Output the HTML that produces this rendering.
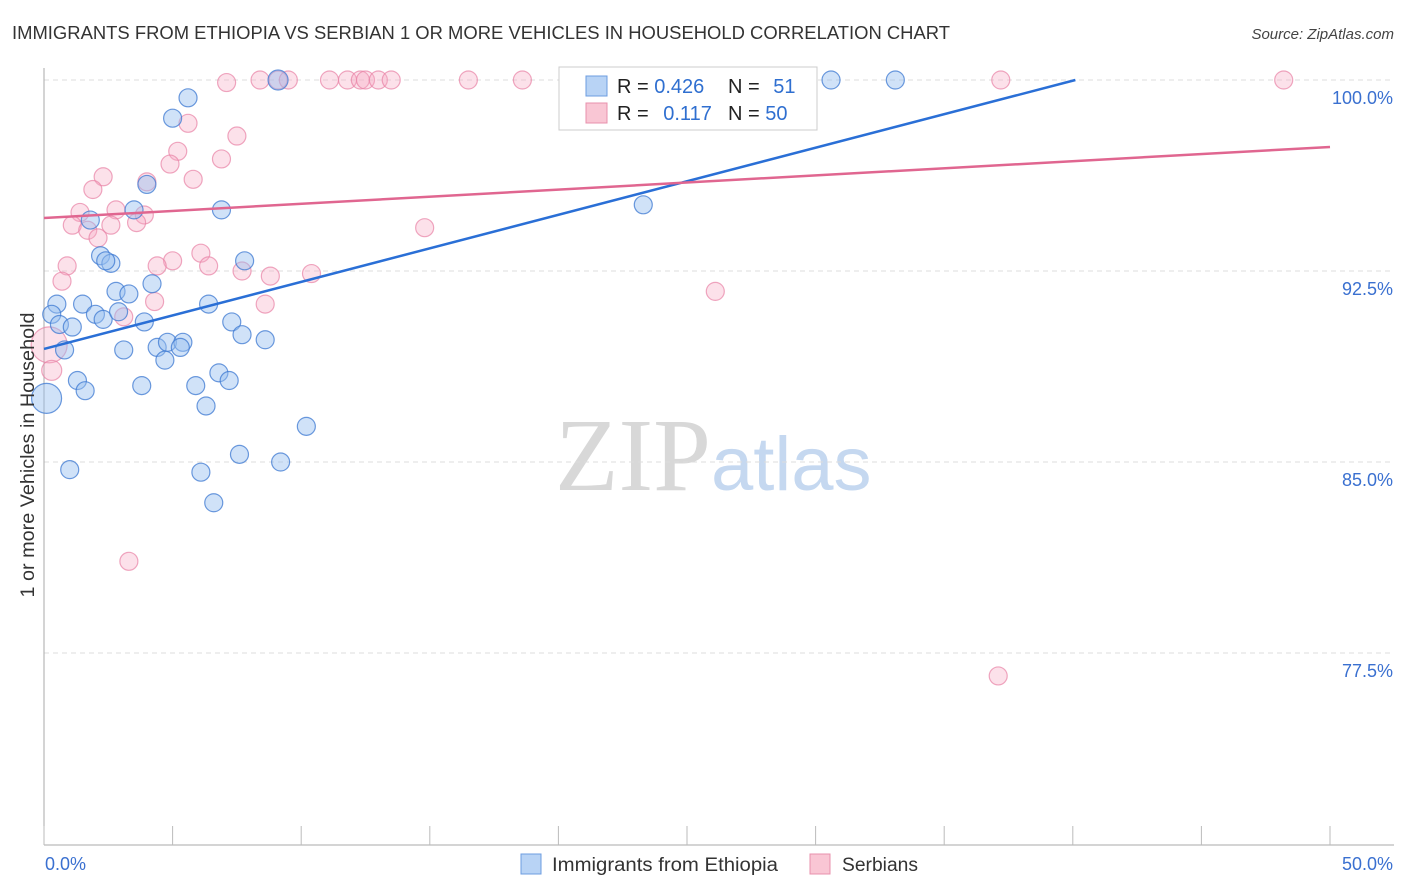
<!DOCTYPE html>
<html><head><meta charset="utf-8"><style>
body{margin:0;background:#fff;font-family:"Liberation Sans",sans-serif;}
svg{display:block}
</style></head><body>
<svg id="chart" width="1406" height="892" xmlns="http://www.w3.org/2000/svg">
<text x="12" y="39" font-size="18" fill="#333" textLength="938" lengthAdjust="spacingAndGlyphs">IMMIGRANTS FROM ETHIOPIA VS SERBIAN 1 OR MORE VEHICLES IN HOUSEHOLD CORRELATION CHART</text>
<text x="1394" y="39" font-size="15" fill="#444" text-anchor="end" font-style="italic">Source: ZipAtlas.com</text>
<text x="555" y="490" font-size="104" font-family="Liberation Serif,serif"><tspan fill="#d8d8d8">ZIP</tspan><tspan fill="#c5d8f0" font-family="Liberation Sans,sans-serif" font-size="76">atlas</tspan></text>
<g id="grid"></g>
<g id="axes"></g>
<g id="pts"></g>
<g id="lines"></g>
<text transform="translate(34,455) rotate(-90)" font-size="19" fill="#333" text-anchor="middle" textLength="285" lengthAdjust="spacingAndGlyphs">1 or more Vehicles in Household</text>
<g>
<rect x="559" y="67" width="258" height="63" fill="#fff" stroke="#ccc"/>
<rect x="586" y="76" width="21" height="20" fill="#b8d3f5" stroke="#6d9de0"/>
<rect x="586" y="103" width="21" height="20" fill="#f9c6d4" stroke="#e890ac"/>
<text x="617" y="93" font-size="20" fill="#222">R = <tspan fill="#2f6fd0">0.426</tspan></text>
<text x="728" y="93" font-size="20" fill="#222">N = <tspan fill="#2f6fd0" dx="8">51</tspan></text>
<text x="617" y="120" font-size="20" fill="#222">R = <tspan fill="#2f6fd0" dx="9">0.117</tspan></text>
<text x="728" y="120" font-size="20" fill="#222">N = <tspan fill="#2f6fd0">50</tspan></text>
</g>
<g>
<rect x="521" y="854" width="20" height="20" fill="#b8d3f5" stroke="#6d9de0"/>
<text x="552" y="871" font-size="19" fill="#333" textLength="226" lengthAdjust="spacingAndGlyphs">Immigrants from Ethiopia</text>
<rect x="810" y="854" width="20" height="20" fill="#f9c6d4" stroke="#e890ac"/>
<text x="842" y="871" font-size="19" fill="#333" textLength="76" lengthAdjust="spacingAndGlyphs">Serbians</text>
</g>
</svg>
<script>
const NS="http://www.w3.org/2000/svg";
const yTicks=[100,92.5,85,77.5];
const yTickLabels=["100.0%","92.5%","85.0%","77.5%"];
const xTickVals=[0,5,10,15,20,25,30,35,40,45,50];
const xEndLabels=["0.0%","50.0%"];
const blueX=[9.1,30.6,33.1,5.6,5.0,4.0,3.5,6.9,23.3,1.8,2.2,2.6,2.4,7.8,2.8,3.3,4.2,0.5,1.5,6.4,0.3,2.0,2.3,2.9,0.6,1.1,3.9,7.3,7.7,8.6,0.8,3.1,4.4,4.8,5.4,5.3,4.7,6.8,7.2,1.3,1.6,3.8,5.9,0.1,6.3,10.2,1.0,7.6,9.2,6.1,6.6];
const blueY=[100,100,100,99.3,98.5,95.9,94.9,94.9,95.1,94.5,93.1,92.8,92.9,92.9,91.7,91.6,92.0,91.2,91.2,91.2,90.8,90.8,90.6,90.9,90.4,90.3,90.5,90.5,90.0,89.8,89.4,89.4,89.5,89.7,89.7,89.5,89.0,88.5,88.2,88.2,87.8,88.0,88.0,87.5,87.2,86.4,84.7,85.3,85.0,84.6,83.4];
const pinkX=[7.1,8.4,9.1,9.5,11.1,11.8,12.3,12.5,13.0,13.5,16.5,18.6,20.6,37.2,48.2,5.6,7.5,5.2,6.9,4.9,5.8,2.3,1.9,4.0,1.4,2.8,3.9,1.1,1.7,2.6,3.6,2.1,14.8,6.1,5.0,0.9,4.4,6.4,7.7,8.8,10.4,0.7,4.3,8.6,3.1,26.1,0.2,0.3,3.3,37.1];
const pinkY=[99.9,100,100,100,100,100,100,100,100,100,100,100,100,100,100,98.3,97.8,97.2,96.9,96.7,96.1,96.2,95.7,96.0,94.8,94.9,94.7,94.3,94.1,94.3,94.4,93.8,94.2,93.2,92.9,92.7,92.7,92.7,92.5,92.3,92.4,92.1,91.3,91.2,90.7,91.7,89.6,88.6,81.1,76.6];
const blueSize=[10,9,9,9,9,9,9,9,9,9,9,9,9,9,9,9,9,9,9,9,9,9,9,9,9,9,9,9,9,9,9,9,9,9,9,9,9,9,9,9,9,9,9,15,9,9,9,9,9,9,9];
const pinkSize=[9,9,9,9,9,9,9,9,9,9,9,9,9,9,9,9,9,9,9,9,9,9,9,9,9,9,9,9,9,9,9,9,9,9,9,9,9,9,9,9,9,9,9,9,9,9,18,10,9,9];
const blueTrend=[[0,89.44],[40.1,100]];
const pinkTrend=[[0,94.58],[50,97.37]];
const X=v=>44+v*25.72;
const Y=v=>80+(100-v)*25.467;
function mk(tag,attrs,parent){const e=document.createElementNS(NS,tag);for(const k in attrs)e.setAttribute(k,attrs[k]);parent.appendChild(e);return e;}
const grid=document.getElementById('grid'),axes=document.getElementById('axes'),pts=document.getElementById('pts'),lines=document.getElementById('lines');
yTicks.forEach((t,i)=>{
 const l=mk('line',{x1:44,x2:1394,y1:Y(t),y2:Y(t),stroke:'#ddd','stroke-dasharray':'5,4'},grid);
 
 
 const tx=mk('text',{x:1393,y:Y(t)+24,'font-size':18,fill:'#3a70d0','text-anchor':'end'},grid);
 tx.textContent=yTickLabels[i];
 
 
});
const ya=mk('line',{x1:44,x2:44,y1:68,y2:845,stroke:'#aaa'},axes);


const xa=mk('line',{x1:44,x2:1394,y1:845,y2:845,stroke:'#aaa'},axes);


xTickVals.forEach(v=>{
 const t=mk('line',{x1:X(v),x2:X(v),y1:826,y2:845,stroke:'#bbb'},axes);
 
 
});
[[0,'start'],[50,'end']].forEach((p,i)=>{
 const t=mk('text',{x:i?1393:45,y:870,'font-size':18,fill:'#3a70d0','text-anchor':p[1]},axes);
 t.textContent=xEndLabels[i];
 
 
});
function drawPts(xs,ys,ss,fill,stroke,name){
 xs.forEach((x,i)=>{
  const c=mk('circle',{cx:X(x),cy:Y(ys[i]),r:ss[i],fill:fill,stroke:stroke,'stroke-width':1.2},pts);
  
  
 });
}
drawPts(pinkX,pinkY,pinkSize,'rgba(245,170,195,0.35)','rgba(232,130,165,0.7)','serbian-point');
drawPts(blueX,blueY,blueSize,'rgba(150,190,240,0.45)','rgba(60,120,210,0.75)','ethiopia-point');
const bl=mk('line',{x1:X(blueTrend[0][0]),y1:Y(blueTrend[0][1]),x2:X(blueTrend[1][0]),y2:Y(blueTrend[1][1]),stroke:'#2a6fd6','stroke-width':2.5},lines);


const pl=mk('line',{x1:X(pinkTrend[0][0]),y1:Y(pinkTrend[0][1]),x2:X(pinkTrend[1][0]),y2:Y(pinkTrend[1][1]),stroke:'#e06690','stroke-width':2.5},lines);


</script>
</body></html>
